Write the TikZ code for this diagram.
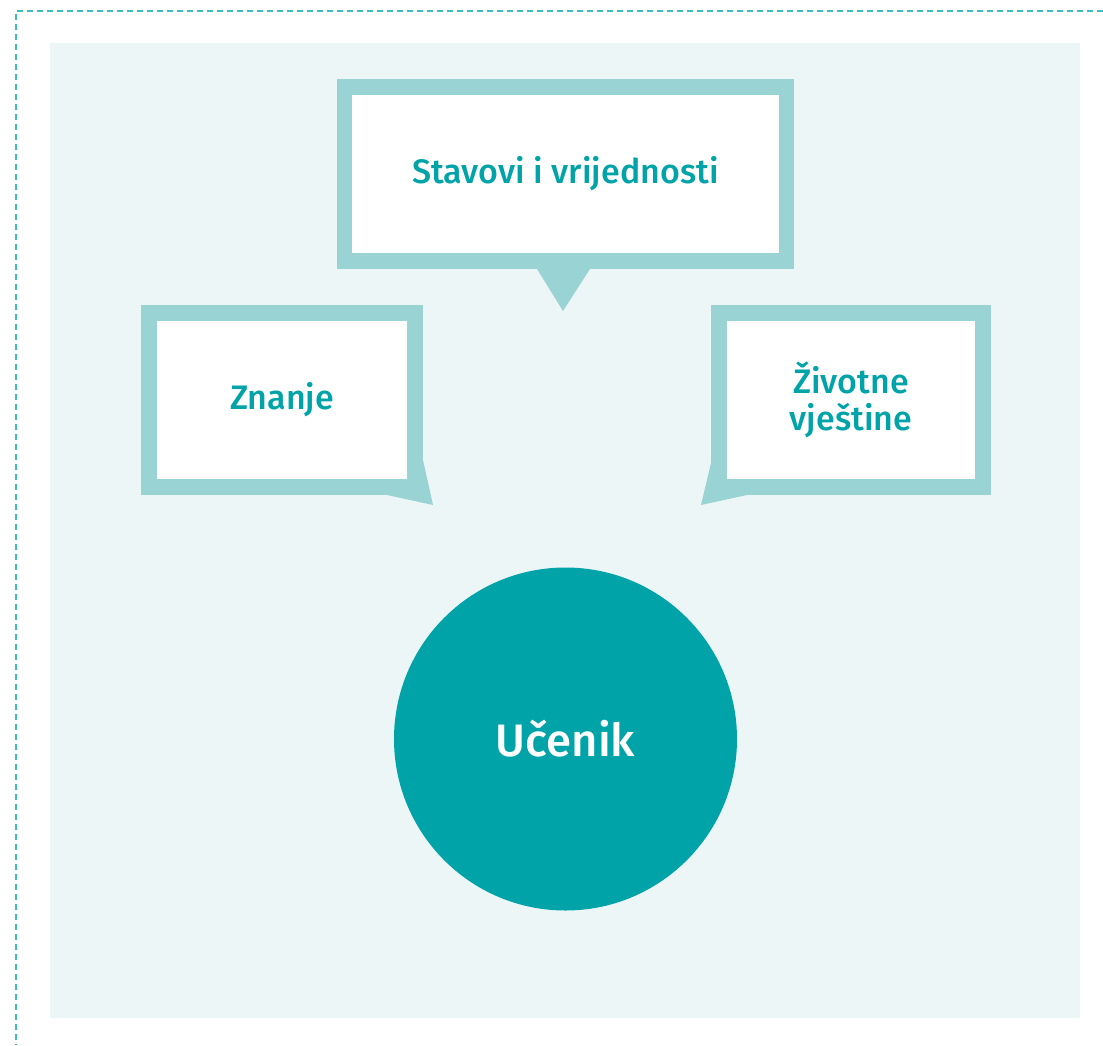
\documentclass[tikz,border=0pt]{standalone}
\usepackage{fontspec}
\setmainfont{Fira Sans}[BoldFont={Fira Sans Medium}]
\definecolor{rub}{HTML}{3DBDBF}
\definecolor{podloga}{HTML}{EDF6F7}
\definecolor{okvir}{HTML}{99D3D4}
\definecolor{tirkiz}{HTML}{00A4A8}
\tikzset{
  oblak/.style={draw=okvir,line width=15.5pt,line join=miter,fill=white,inner sep=0pt,
    align=center,text=tirkiz,font=\bfseries\fontsize{34}{37}\selectfont},
}
\begin{document}
\begin{tikzpicture}[x=1pt,y=-1pt,line join=round]
	\useasboundingbox (0,0) rectangle (1103,1045);
	%okvir i podloga
	\draw[rub,line width=1.4pt,dash pattern=on 6pt off 4pt](1103,11)--(16,11)--(16,1045);
	\fill[podloga](50,43)rectangle(1080,1018);
	%oblacici
	\node[oblak,minimum width=442pt,minimum height=174pt](stavovi)at(565.5,174){Stavovi i vrijednosti};
	\node[oblak,minimum width=266pt,minimum height=174pt](znanje)at(282,400){Znanje};
	\node[oblak,minimum width=264pt,minimum height=174pt](vjestine)at(851,400){Životne\\vještine};
	\coordinate (T_1) at (563,311);
	\coordinate (T_2) at (433,505);
	\coordinate (T_3) at (701,505);
	\fill[okvir](537,262)--(537,269)--(T_1)--(590,269)--(590,262)--cycle;
	\fill[okvir](415,458)--(423,460)--(T_2)--(387,495)--(390,487)--(415,487)--cycle;
	\fill[okvir](719,458)--(711,463)--(T_3)--(747,495)--(744,487)--(719,487)--cycle;
	%ucenik
	\node[circle,fill=tirkiz,minimum size=343pt,inner sep=0pt,text=white,
	  font=\bfseries\fontsize{45.5}{50}\selectfont](ucenik)at(565.5,739){Učenik};
\end{tikzpicture}
\end{document}
